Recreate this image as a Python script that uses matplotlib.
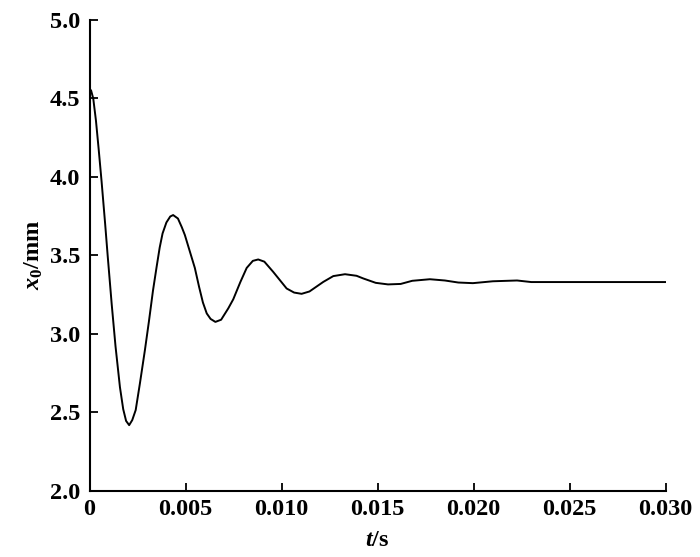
import matplotlib
matplotlib.use("Agg")
import matplotlib.pyplot as plt

t_s = [0.0, 0.00008, 0.00019, 0.00033, 0.00047, 0.000625, 0.00081, 0.00094,
       0.00115, 0.00135, 0.00158, 0.00175, 0.0019, 0.00206, 0.00222, 0.0024,
       0.00262, 0.00288, 0.00309, 0.0033, 0.00349, 0.00365, 0.0038, 0.004,
       0.0042, 0.00435, 0.0046, 0.0048, 0.00496, 0.00548, 0.0057, 0.0059,
       0.0061, 0.0063, 0.00655, 0.00685, 0.00722, 0.00748, 0.00785, 0.00818,
       0.0085, 0.00878, 0.0091, 0.00956, 0.01026, 0.01065, 0.01104, 0.01145,
       0.01217, 0.01269, 0.0133, 0.0139, 0.01425, 0.0149, 0.01554, 0.0162,
       0.0168, 0.01772, 0.0185, 0.0192, 0.01996, 0.021, 0.02226, 0.023, 0.030]
x0_mm = [4.563, 4.55, 4.50, 4.36, 4.18, 3.97, 3.70, 3.50,
         3.19, 2.92, 2.66, 2.52, 2.445, 2.418, 2.45, 2.514,
         2.684, 2.896, 3.08, 3.275, 3.427, 3.55, 3.64, 3.71,
         3.748, 3.757, 3.735, 3.68, 3.63, 3.42, 3.30, 3.20,
         3.13, 3.095, 3.076, 3.09, 3.162, 3.22, 3.33, 3.42,
         3.465, 3.474, 3.46, 3.395, 3.289, 3.263, 3.255, 3.27,
         3.331, 3.368, 3.380, 3.37, 3.353, 3.325, 3.315, 3.318,
         3.338, 3.348, 3.340, 3.327, 3.323, 3.335, 3.340, 3.330, 3.330]

xticks = [0, 0.005, 0.010, 0.015, 0.020, 0.025, 0.030]
xtick_labels = ["0", "0.005", "0.010", "0.015", "0.020", "0.025", "0.030"]
yticks = [2.0, 2.5, 3.0, 3.5, 4.0, 4.5, 5.0]
ytick_labels = ["2.0", "2.5", "3.0", "3.5", "4.0", "4.5", "5.0"]

plt.rcParams['font.family'] = ['Liberation Serif', 'DejaVu Serif']
plt.rcParams['font.weight'] = 'bold'
plt.rcParams['mathtext.fontset'] = 'custom'
plt.rcParams['mathtext.rm'] = 'Liberation Serif:bold'
plt.rcParams['mathtext.it'] = 'Liberation Serif:italic:bold'
plt.rcParams['mathtext.bf'] = 'Liberation Serif:bold'

fig = plt.figure(figsize=(7.0, 5.57), dpi=100)
ax = fig.add_axes([0.128, 0.119, 0.823, 0.845])
ax.plot(t_s, x0_mm, color='black', linewidth=1.4)
ax.set_xlim(0, 0.030)
ax.set_ylim(2.0, 5.0)
ax.set_xticks(xticks)
ax.set_xticklabels(xtick_labels)
ax.set_yticks(yticks)
ax.set_yticklabels(ytick_labels)
for s in ['top', 'right']:
    ax.spines[s].set_visible(False)
for s in ['left', 'bottom']:
    ax.spines[s].set_linewidth(1.5)
ax.tick_params(direction='in', length=6, width=1.3, labelsize=17.5)
ax.tick_params(axis='x', pad=6)
ax.tick_params(axis='y', pad=7)
ax.set_xlabel(r'$t$/s', fontsize=17.5, fontweight='bold', labelpad=7)
ax.set_ylabel(r'$x_0$/mm', fontsize=17.5, fontweight='bold', labelpad=3)
fig.savefig('out.png', dpi=100)
